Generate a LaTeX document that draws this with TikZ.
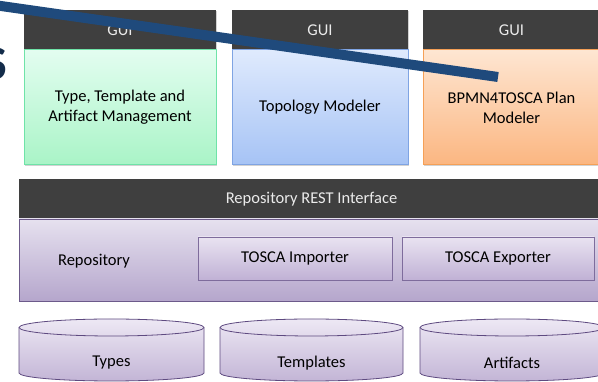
\documentclass[tikz,border=0pt]{standalone}
\usepackage{fontspec}
\setmainfont{Carlito}
\usetikzlibrary{shadows}
\definecolor{hdr}{HTML}{3F3F3F}
\definecolor{gtop}{HTML}{E3FDF0}\definecolor{gbot}{HTML}{A9F4C7}\definecolor{gbrd}{HTML}{6FE3A8}
\definecolor{btop}{HTML}{DFEAFD}\definecolor{bbot}{HTML}{A6C3F5}\definecolor{bbrd}{HTML}{7FA4E3}
\definecolor{otop}{HTML}{FEE6D2}\definecolor{obot}{HTML}{FBB681}\definecolor{obrd}{HTML}{F5A057}
\definecolor{ptop}{HTML}{E6E1EF}\definecolor{pbot}{HTML}{B5A6CC}\definecolor{pbrd}{HTML}{6C5A8A}
\definecolor{itop}{HTML}{E9E3F1}\definecolor{ibot}{HTML}{C0B1D5}\definecolor{ibrd}{HTML}{7E6C9C}
\definecolor{ctop}{HTML}{EDE8F4}\definecolor{cbot}{HTML}{C3B5D6}\definecolor{cbrd}{HTML}{5E4A80}
\definecolor{navy}{HTML}{1F4A7C}
\begin{document}
\begin{tikzpicture}[x=1pt,y=1pt,
  every node/.style={inner sep=0pt, outer sep=0pt},
  shad/.style={drop shadow={shadow xshift=1pt, shadow yshift=-1.5pt, opacity=0.35}},
  hdrbox/.style={fill=hdr, anchor=south west, text=white!92!black,
     font=\fontsize{16.5}{20}\selectfont, shad},
  bodybox/.style={anchor=north west, align=center, text=black,
     font=\fontsize{16.5}{20}\selectfont, line width=1pt, shad},
  inbox/.style={anchor=south west, draw=ibrd, top color=itop, bottom color=ibot,
     line width=0.9pt, font=\fontsize{16.5}{20}\selectfont, shad},
  cyl/.style={draw=cbrd, line width=0.8pt, top color=ctop, bottom color=cbot},
  lbl/.style={font=\fontsize{16.5}{20}\selectfont, text=black}
]
\useasboundingbox (0,0) rectangle (598,382);
\fill[white] (0,0) rectangle (598,382);

% partially hidden title glyph
\node[text=navy!60!black, font=\fontsize{48}{48}\selectfont\bfseries] (glyph) at (-4,318) {S};

% GUI columns
\node[hdrbox, minimum width=192pt, minimum height=40pt] (h1) at (24,332) {GUI};
\node[bodybox, draw=gbrd, top color=gtop, bottom color=gbot, minimum width=192pt, minimum height=115pt] (b1) at (24,332) {Type, Template and\\Artifact Management};

\node[hdrbox, minimum width=176pt, minimum height=40pt] (h2) at (232,332) {GUI};
\node[bodybox, draw=bbrd, top color=btop, bottom color=bbot, minimum width=176pt, minimum height=115pt] (b2) at (232,332) {Topology Modeler};

\node[hdrbox, minimum width=177pt, minimum height=40pt] (h3) at (423,332) {GUI};
\node[bodybox, draw=obrd, top color=otop, bottom color=obot, minimum width=177pt, minimum height=115pt] (b3) at (423,332) {BPMN4TOSCA Plan\\Modeler};

% Repository block
\node[hdrbox, minimum width=585pt, minimum height=40pt] (rest) at (19,163) {Repository REST Interface};
\node[bodybox, draw=pbrd, top color=ptop, bottom color=pbot, line width=0.9pt, minimum width=585pt, minimum height=82pt] (repo) at (19,163) {};
\node[lbl] (repolbl) at (94,121) {Repository};
\node[inbox, minimum width=194pt, minimum height=43pt] (imp) at (198,102) {TOSCA Importer};
\node[inbox, minimum width=192pt, minimum height=43pt] (exp) at (402,102) {TOSCA Exporter};

% Storage cylinders
\foreach \xa/\xb/\nm/\txt in {19/204/types/Types, 220/403/templates/Templates, 420/604/artifacts/Artifacts}{
  \pgfmathsetmacro{\rx}{(\xb-\xa)/2}
  \pgfmathsetmacro{\xc}{(\xb+\xa)/2}
  \path[cyl] (\xa,54.5) -- (\xa,9) arc[start angle=180, end angle=360, x radius=\rx pt, y radius=8pt]
     -- (\xb,54.5) arc[start angle=0, end angle=180, x radius=\rx pt, y radius=8.5pt] -- cycle;
  \draw[cbrd, line width=0.8pt] (\xa,54.5) arc[start angle=180, end angle=360, x radius=\rx pt, y radius=8.5pt];
  \node[lbl] (\nm) at (\xc,19) {\txt};
}

% overlay line
\coordinate (ls) at (-20,379);
\coordinate (le) at (498,305);
\draw[navy, line width=10pt] (ls) -- (le);
\end{tikzpicture}
\end{document}
